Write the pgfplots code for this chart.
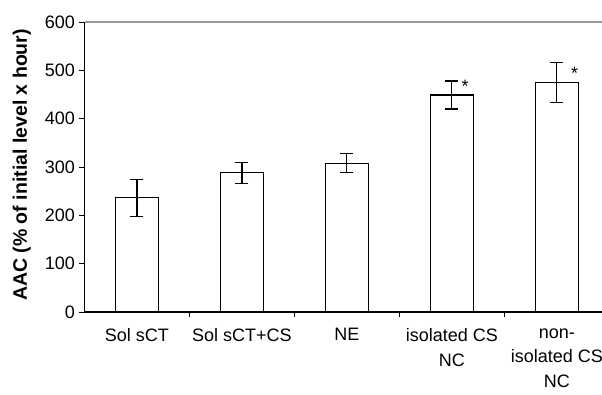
\documentclass[border=0pt]{standalone}
\usepackage{fontspec}
\setmainfont{Liberation Sans}
\usepackage{pgfplots}
\pgfplotsset{compat=1.18}

\begin{document}
\begin{tikzpicture}
\path[use as bounding box] (0,0) rectangle (602pt,394pt);
\begin{axis}[
  at={(84.5pt,82pt)}, anchor=south west,
  scale only axis, width=517.5pt, height=290pt,
  xmin=-0.5, xmax=4.43, ymin=0, ymax=600,
  axis lines=left,
  axis line style={-, line width=1.1pt, black},
  tick align=outside,
  tick style={black, line width=1pt},
  major tick length=5pt, minor tick length=5pt,
  ytick={0,100,...,600},
  xtick={0,1,2,3,4},
  xticklabels={Sol sCT, Sol sCT+CS, NE, isolated CS\\NC, non-\\isolated CS\\NC},
  major x tick style={draw=none},
  minor xtick={0.5,1.5,2.5,3.5},
  /pgf/number format/assume math mode=true,
  tick label style={font=\fontsize{18}{24.5}\selectfont},
  x tick label style={align=center, yshift=-8pt},
  y tick label style={xshift=-1pt},
  ylabel={\textbf{AAC (\% of initial level x hour)}},
  ylabel style={font=\fontsize{19.5}{22}\selectfont,
    at={(axis description cs:-0.121,0.507)}, anchor=center},
  clip=false,
]
% gray frame line along the top
\draw[gray!80, line width=1.1pt] (rel axis cs:0,1) -- (rel axis cs:1,1);

\addplot[ybar, bar width=0.41, fill=white, draw=black, line width=1.1pt,
  error bars/.cd, y dir=both, y explicit,
  error bar style={line width=1.1pt, black},
  error mark options={rotate=90, mark size=6.5pt, line width=1.1pt, black}]
  table[x=x, y=y, y error=e] {
x y   e
0 236 38
1 288 22
2 308 20
3 449 29
4 475 42
};

\node[anchor=base, font=\fontsize{18}{20}\selectfont] at (axis cs:3.126,454) {*};
\node[anchor=base, font=\fontsize{18}{20}\selectfont] at (axis cs:4.17,481) {*};
\end{axis}
\end{tikzpicture}
\end{document}
